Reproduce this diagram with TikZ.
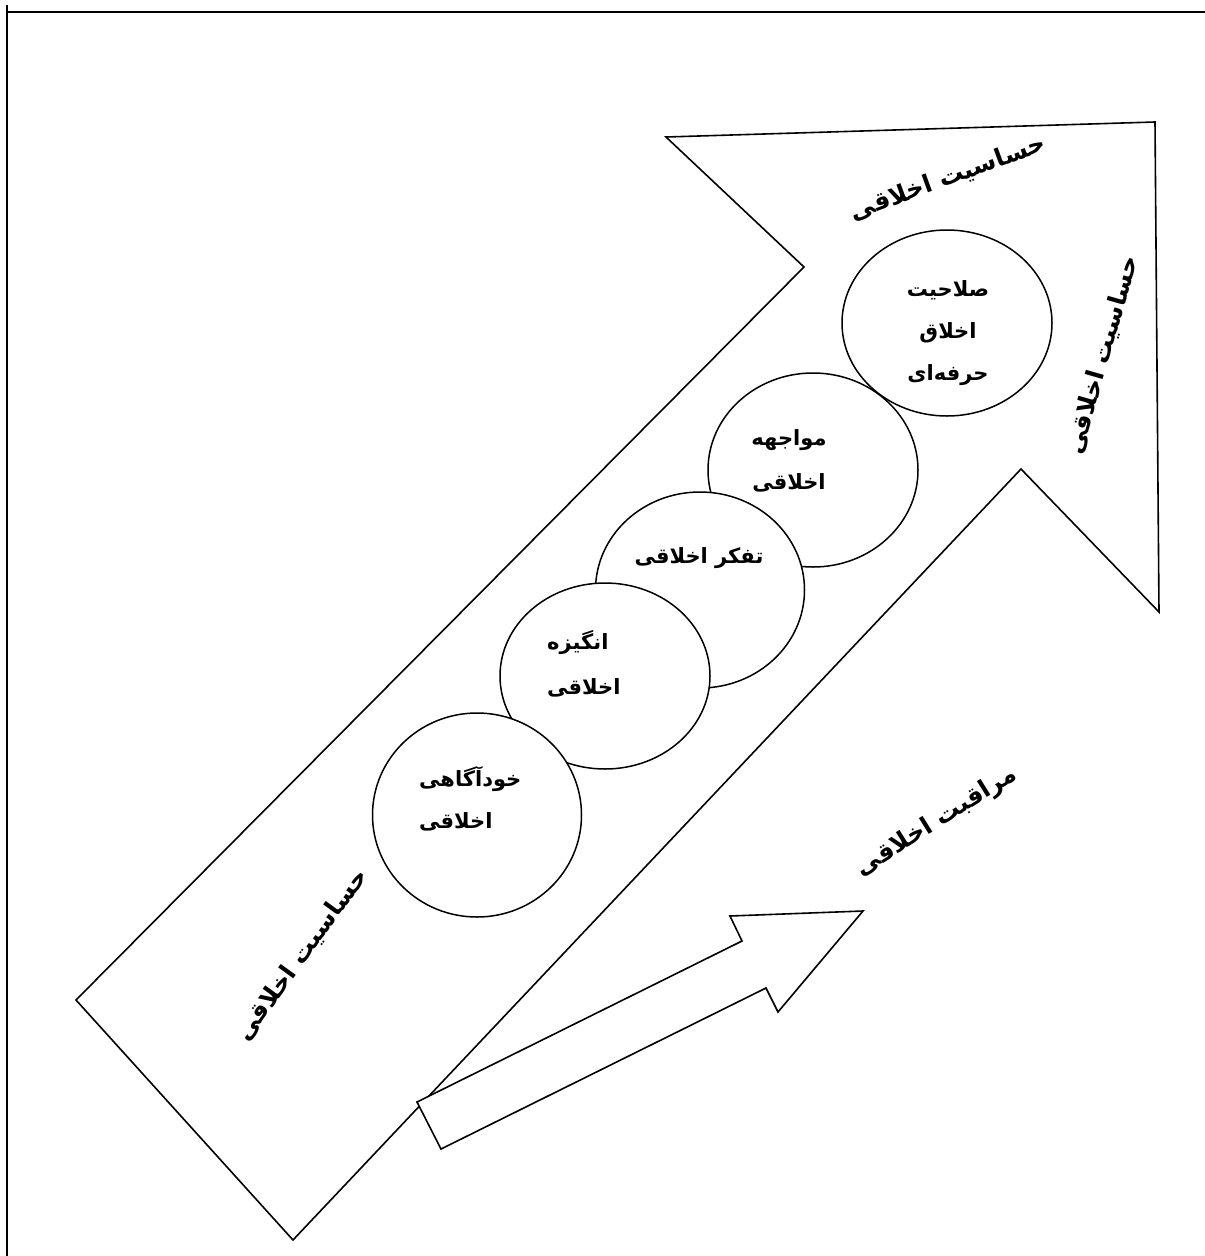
\documentclass[tikz,border=0pt]{standalone}
\usepackage{fontspec}
\newfontfamily\arabicfont[Script=Arabic]{DejaVu Sans}
\TeXXeTstate=1
\usetikzlibrary{shapes.geometric}
\tikzset{
  shapeline/.style={draw=black, line width=1.6pt, fill=white, line join=miter},
  bubble/.style={ellipse, draw=black, line width=1.5pt, fill=white, inner sep=0pt},
  intext/.style={font=\arabicfont\bfseries\fontsize{21}{25}\selectfont, inner sep=0pt},
  sidelabel/.style={font=\arabicfont\bfseries\fontsize{24.5}{29}\selectfont, inner sep=0pt},
  framerule/.style={draw=black, line width=1.2pt},
  frametop/.style={draw=black, line width=2.6pt}
}
\begin{document}
\begin{tikzpicture}[x=1pt,y=-1pt]
\useasboundingbox (0,0) rectangle (1205,1256);
% frame
\coordinate (fl1) at (7,5);
\coordinate (fl2) at (7,1256);
\coordinate (ft1) at (7,12);
\coordinate (ft2) at (1205,12);
\draw[framerule] (fl1) -- (fl2);
\draw[frametop] (ft1) -- (ft2);
% big arrow
\coordinate (ba1) at (293,1240);
\coordinate (ba2) at (76,1000);
\coordinate (ba3) at (804,267);
\coordinate (ba4) at (666,137);
\coordinate (ba5) at (1155,122);
\coordinate (ba6) at (1159,612);
\coordinate (ba7) at (1021,469);
\draw[shapeline] (ba1) -- (ba2) -- (ba3) -- (ba4) -- (ba5) -- (ba6) -- (ba7) -- cycle;
% circles (drawn from top to bottom so the lower ones lie on top)
\node[bubble, minimum width=210pt, minimum height=186pt] (c5) at (947,323) {};
\node[bubble, minimum width=210pt, minimum height=194pt] (c4) at (813,470) {};
\node[bubble, minimum width=209pt, minimum height=196pt] (c3) at (700,590) {};
\node[bubble, minimum width=210pt, minimum height=186pt] (c2) at (605,676) {};
\node[bubble, minimum width=209pt, minimum height=204pt] (c1) at (477,815) {};
% circle texts
\node[intext] (t5a) at (948,290) {\beginR صلاحیت\endR};
\node[intext] (t5b) at (948,333) {\beginR اخلاق\endR};
\node[intext] (t5c) at (948,375) {\beginR حرفه‌ای\endR};
\node[intext] (t4a) at (789,440) {\beginR مواجهه\endR};
\node[intext] (t4b) at (789,483) {\beginR اخلاقی\endR};
\node[intext] (t3a) at (699,558) {\beginR تفکر اخلاقی\endR};
\node[intext, anchor=west] (t2a) at (547,643) {\beginR انگیزه\endR};
\node[intext, anchor=west] (t2b) at (547,688) {\beginR اخلاقی\endR};
\node[intext, anchor=west] (t1a) at (419,779) {\beginR خودآگاهی\endR};
\node[intext, anchor=west] (t1b) at (419,822) {\beginR اخلاقی\endR};
% small arrow
\coordinate (sa1) at (417,1102);
\coordinate (sa2) at (441,1149);
\coordinate (sa3) at (766,988);
\coordinate (sa4) at (778,1012);
\coordinate (sa5) at (863,911);
\coordinate (sa6) at (730,916);
\coordinate (sa7) at (742,941);
\draw[shapeline] (sa1) -- (sa2) -- (sa3) -- (sa4) -- (sa5) -- (sa6) -- (sa7) -- cycle;
% side labels
\node[sidelabel, rotate=20] (ltop) at (948,178) {\beginR حساسیت اخلاقی\endR};
\node[sidelabel, rotate=74] (lright) at (1103,355) {\beginR حساسیت اخلاقی\endR};
\node[sidelabel, rotate=54] (lleft) at (302,955) {\beginR حساسیت اخلاقی\endR};
\node[sidelabel, rotate=32] (lcare) at (937,822) {\beginR مراقبت اخلاقی\endR};
\end{tikzpicture}
\end{document}
